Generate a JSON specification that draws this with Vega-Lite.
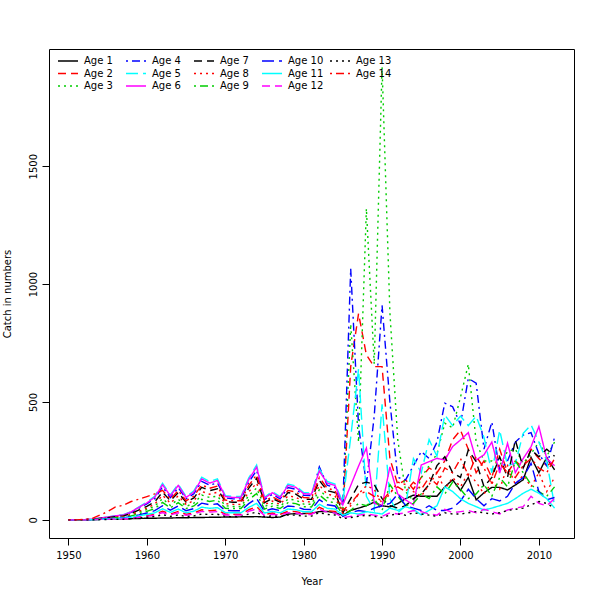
{
  "$schema": "https://vega.github.io/schema/vega-lite/v6.json",
  "width": 525,
  "height": 489,
  "autosize": {"type": "none"},
  "padding": {"left": 49, "top": 49, "right": 26, "bottom": 62},
  "config": {
    "view": {"stroke": "black", "strokeWidth": 1},
    "font": "DejaVu Sans",
    "axis": {
      "domain": false, "grid": false, "tickColor": "black", "tickSize": 7, "tickWidth": 1,
      "labelColor": "black", "labelFont": "DejaVu Sans", "labelFontSize": 10,
      "titleColor": "black", "titleFont": "DejaVu Sans", "titleFontSize": 10, "titleFontWeight": "normal"
    }
  },
  "datasets": {
    "catch": [
      {"age":"Age 1","year":1950,"n":0},{"age":"Age 1","year":1951,"n":0},{"age":"Age 1","year":1952,"n":0},{"age":"Age 1","year":1953,"n":1},{"age":"Age 1","year":1954,"n":2},{"age":"Age 1","year":1955,"n":3},{"age":"Age 1","year":1956,"n":4},{"age":"Age 1","year":1957,"n":5},{"age":"Age 1","year":1958,"n":5},{"age":"Age 1","year":1959,"n":6},
      {"age":"Age 1","year":1960,"n":7},{"age":"Age 1","year":1961,"n":7},{"age":"Age 1","year":1962,"n":8},{"age":"Age 1","year":1963,"n":8},{"age":"Age 1","year":1964,"n":9},{"age":"Age 1","year":1965,"n":9},{"age":"Age 1","year":1966,"n":10},{"age":"Age 1","year":1967,"n":10},{"age":"Age 1","year":1968,"n":11},{"age":"Age 1","year":1969,"n":11},
      {"age":"Age 1","year":1970,"n":12},{"age":"Age 1","year":1971,"n":12},{"age":"Age 1","year":1972,"n":13},{"age":"Age 1","year":1973,"n":13},{"age":"Age 1","year":1974,"n":14},{"age":"Age 1","year":1975,"n":12},{"age":"Age 1","year":1976,"n":10},{"age":"Age 1","year":1977,"n":12},{"age":"Age 1","year":1978,"n":25},{"age":"Age 1","year":1979,"n":26},
      {"age":"Age 1","year":1980,"n":27},{"age":"Age 1","year":1981,"n":28},{"age":"Age 1","year":1982,"n":35},{"age":"Age 1","year":1983,"n":36},{"age":"Age 1","year":1984,"n":30},{"age":"Age 1","year":1985,"n":20},{"age":"Age 1","year":1986,"n":40},{"age":"Age 1","year":1987,"n":50},{"age":"Age 1","year":1988,"n":60},{"age":"Age 1","year":1989,"n":75},
      {"age":"Age 1","year":1990,"n":60},{"age":"Age 1","year":1991,"n":55},{"age":"Age 1","year":1992,"n":70},{"age":"Age 1","year":1993,"n":90},{"age":"Age 1","year":1994,"n":105},{"age":"Age 1","year":1995,"n":100},{"age":"Age 1","year":1996,"n":100},{"age":"Age 1","year":1997,"n":100},{"age":"Age 1","year":1998,"n":140},{"age":"Age 1","year":1999,"n":170},
      {"age":"Age 1","year":2000,"n":125},{"age":"Age 1","year":2001,"n":180},{"age":"Age 1","year":2002,"n":85},{"age":"Age 1","year":2003,"n":115},{"age":"Age 1","year":2004,"n":138},{"age":"Age 1","year":2005,"n":138},{"age":"Age 1","year":2006,"n":127},{"age":"Age 1","year":2007,"n":148},{"age":"Age 1","year":2008,"n":170},{"age":"Age 1","year":2009,"n":265},
      {"age":"Age 1","year":2010,"n":200},{"age":"Age 1","year":2011,"n":265},{"age":"Age 1","year":2012,"n":212},

      {"age":"Age 2","year":1950,"n":0},{"age":"Age 2","year":1951,"n":0},{"age":"Age 2","year":1952,"n":0},{"age":"Age 2","year":1953,"n":1},{"age":"Age 2","year":1954,"n":2},{"age":"Age 2","year":1955,"n":3},{"age":"Age 2","year":1956,"n":4},{"age":"Age 2","year":1957,"n":5},{"age":"Age 2","year":1958,"n":8},{"age":"Age 2","year":1959,"n":13},
      {"age":"Age 2","year":1960,"n":18},{"age":"Age 2","year":1961,"n":24},{"age":"Age 2","year":1962,"n":37},{"age":"Age 2","year":1963,"n":25},{"age":"Age 2","year":1964,"n":36},{"age":"Age 2","year":1965,"n":24},{"age":"Age 2","year":1966,"n":30},{"age":"Age 2","year":1967,"n":43},{"age":"Age 2","year":1968,"n":39},{"age":"Age 2","year":1969,"n":42},
      {"age":"Age 2","year":1970,"n":25},{"age":"Age 2","year":1971,"n":24},{"age":"Age 2","year":1972,"n":24},{"age":"Age 2","year":1973,"n":43},{"age":"Age 2","year":1974,"n":56},{"age":"Age 2","year":1975,"n":23},{"age":"Age 2","year":1976,"n":29},{"age":"Age 2","year":1977,"n":24},{"age":"Age 2","year":1978,"n":36},{"age":"Age 2","year":1979,"n":35},
      {"age":"Age 2","year":1980,"n":28},{"age":"Age 2","year":1981,"n":27},{"age":"Age 2","year":1982,"n":53},{"age":"Age 2","year":1983,"n":39},{"age":"Age 2","year":1984,"n":36},{"age":"Age 2","year":1985,"n":25},{"age":"Age 2","year":1986,"n":650},{"age":"Age 2","year":1987,"n":875},{"age":"Age 2","year":1988,"n":700},{"age":"Age 2","year":1989,"n":650},
      {"age":"Age 2","year":1990,"n":650},{"age":"Age 2","year":1991,"n":260},{"age":"Age 2","year":1992,"n":150},{"age":"Age 2","year":1993,"n":170},{"age":"Age 2","year":1994,"n":130},{"age":"Age 2","year":1995,"n":180},{"age":"Age 2","year":1996,"n":220},{"age":"Age 2","year":1997,"n":200},{"age":"Age 2","year":1998,"n":250},{"age":"Age 2","year":1999,"n":340},
      {"age":"Age 2","year":2000,"n":380},{"age":"Age 2","year":2001,"n":300},{"age":"Age 2","year":2002,"n":200},{"age":"Age 2","year":2003,"n":250},{"age":"Age 2","year":2004,"n":180},{"age":"Age 2","year":2005,"n":300},{"age":"Age 2","year":2006,"n":200},{"age":"Age 2","year":2007,"n":250},{"age":"Age 2","year":2008,"n":220},{"age":"Age 2","year":2009,"n":300},
      {"age":"Age 2","year":2010,"n":260},{"age":"Age 2","year":2011,"n":230},{"age":"Age 2","year":2012,"n":250},

      {"age":"Age 3","year":1950,"n":0},{"age":"Age 3","year":1951,"n":0},{"age":"Age 3","year":1952,"n":1},{"age":"Age 3","year":1953,"n":2},{"age":"Age 3","year":1954,"n":5},{"age":"Age 3","year":1955,"n":7},{"age":"Age 3","year":1956,"n":10},{"age":"Age 3","year":1957,"n":13},{"age":"Age 3","year":1958,"n":20},{"age":"Age 3","year":1959,"n":32},
      {"age":"Age 3","year":1960,"n":44},{"age":"Age 3","year":1961,"n":58},{"age":"Age 3","year":1962,"n":90},{"age":"Age 3","year":1963,"n":61},{"age":"Age 3","year":1964,"n":88},{"age":"Age 3","year":1965,"n":57},{"age":"Age 3","year":1966,"n":71},{"age":"Age 3","year":1967,"n":105},{"age":"Age 3","year":1968,"n":95},{"age":"Age 3","year":1969,"n":101},
      {"age":"Age 3","year":1970,"n":60},{"age":"Age 3","year":1971,"n":57},{"age":"Age 3","year":1972,"n":57},{"age":"Age 3","year":1973,"n":103},{"age":"Age 3","year":1974,"n":135},{"age":"Age 3","year":1975,"n":56},{"age":"Age 3","year":1976,"n":70},{"age":"Age 3","year":1977,"n":57},{"age":"Age 3","year":1978,"n":88},{"age":"Age 3","year":1979,"n":84},
      {"age":"Age 3","year":1980,"n":67},{"age":"Age 3","year":1981,"n":66},{"age":"Age 3","year":1982,"n":128},{"age":"Age 3","year":1983,"n":95},{"age":"Age 3","year":1984,"n":88},{"age":"Age 3","year":1985,"n":40},{"age":"Age 3","year":1986,"n":830},{"age":"Age 3","year":1987,"n":330},{"age":"Age 3","year":1988,"n":1320},{"age":"Age 3","year":1989,"n":660},
      {"age":"Age 3","year":1990,"n":1920},{"age":"Age 3","year":1991,"n":880},{"age":"Age 3","year":1992,"n":340},{"age":"Age 3","year":1993,"n":120},{"age":"Age 3","year":1994,"n":80},{"age":"Age 3","year":1995,"n":180},{"age":"Age 3","year":1996,"n":230},{"age":"Age 3","year":1997,"n":280},{"age":"Age 3","year":1998,"n":410},{"age":"Age 3","year":1999,"n":390},
      {"age":"Age 3","year":2000,"n":520},{"age":"Age 3","year":2001,"n":660},{"age":"Age 3","year":2002,"n":330},{"age":"Age 3","year":2003,"n":250},{"age":"Age 3","year":2004,"n":250},{"age":"Age 3","year":2005,"n":230},{"age":"Age 3","year":2006,"n":290},{"age":"Age 3","year":2007,"n":300},{"age":"Age 3","year":2008,"n":240},{"age":"Age 3","year":2009,"n":280},
      {"age":"Age 3","year":2010,"n":330},{"age":"Age 3","year":2011,"n":270},{"age":"Age 3","year":2012,"n":330},

      {"age":"Age 4","year":1950,"n":0},{"age":"Age 4","year":1951,"n":0},{"age":"Age 4","year":1952,"n":1},{"age":"Age 4","year":1953,"n":3},{"age":"Age 4","year":1954,"n":7},{"age":"Age 4","year":1955,"n":11},{"age":"Age 4","year":1956,"n":16},{"age":"Age 4","year":1957,"n":20},{"age":"Age 4","year":1958,"n":32},{"age":"Age 4","year":1959,"n":50},
      {"age":"Age 4","year":1960,"n":68},{"age":"Age 4","year":1961,"n":90},{"age":"Age 4","year":1962,"n":140},{"age":"Age 4","year":1963,"n":95},{"age":"Age 4","year":1964,"n":137},{"age":"Age 4","year":1965,"n":89},{"age":"Age 4","year":1966,"n":111},{"age":"Age 4","year":1967,"n":163},{"age":"Age 4","year":1968,"n":147},{"age":"Age 4","year":1969,"n":157},
      {"age":"Age 4","year":1970,"n":93},{"age":"Age 4","year":1971,"n":89},{"age":"Age 4","year":1972,"n":89},{"age":"Age 4","year":1973,"n":160},{"age":"Age 4","year":1974,"n":210},{"age":"Age 4","year":1975,"n":86},{"age":"Age 4","year":1976,"n":108},{"age":"Age 4","year":1977,"n":89},{"age":"Age 4","year":1978,"n":137},{"age":"Age 4","year":1979,"n":130},
      {"age":"Age 4","year":1980,"n":104},{"age":"Age 4","year":1981,"n":103},{"age":"Age 4","year":1982,"n":225},{"age":"Age 4","year":1983,"n":147},{"age":"Age 4","year":1984,"n":137},{"age":"Age 4","year":1985,"n":60},{"age":"Age 4","year":1986,"n":1065},{"age":"Age 4","year":1987,"n":400},{"age":"Age 4","year":1988,"n":150},{"age":"Age 4","year":1989,"n":440},
      {"age":"Age 4","year":1990,"n":910},{"age":"Age 4","year":1991,"n":500},{"age":"Age 4","year":1992,"n":180},{"age":"Age 4","year":1993,"n":170},{"age":"Age 4","year":1994,"n":230},{"age":"Age 4","year":1995,"n":290},{"age":"Age 4","year":1996,"n":260},{"age":"Age 4","year":1997,"n":330},{"age":"Age 4","year":1998,"n":495},{"age":"Age 4","year":1999,"n":480},
      {"age":"Age 4","year":2000,"n":405},{"age":"Age 4","year":2001,"n":600},{"age":"Age 4","year":2002,"n":580},{"age":"Age 4","year":2003,"n":300},{"age":"Age 4","year":2004,"n":415},{"age":"Age 4","year":2005,"n":210},{"age":"Age 4","year":2006,"n":250},{"age":"Age 4","year":2007,"n":330},{"age":"Age 4","year":2008,"n":360},{"age":"Age 4","year":2009,"n":370},
      {"age":"Age 4","year":2010,"n":280},{"age":"Age 4","year":2011,"n":230},{"age":"Age 4","year":2012,"n":350},

      {"age":"Age 5","year":1950,"n":0},{"age":"Age 5","year":1951,"n":0},{"age":"Age 5","year":1952,"n":1},{"age":"Age 5","year":1953,"n":3},{"age":"Age 5","year":1954,"n":8},{"age":"Age 5","year":1955,"n":12},{"age":"Age 5","year":1956,"n":18},{"age":"Age 5","year":1957,"n":22},{"age":"Age 5","year":1958,"n":35},{"age":"Age 5","year":1959,"n":55},
      {"age":"Age 5","year":1960,"n":75},{"age":"Age 5","year":1961,"n":100},{"age":"Age 5","year":1962,"n":155},{"age":"Age 5","year":1963,"n":106},{"age":"Age 5","year":1964,"n":152},{"age":"Age 5","year":1965,"n":99},{"age":"Age 5","year":1966,"n":123},{"age":"Age 5","year":1967,"n":181},{"age":"Age 5","year":1968,"n":163},{"age":"Age 5","year":1969,"n":174},
      {"age":"Age 5","year":1970,"n":103},{"age":"Age 5","year":1971,"n":99},{"age":"Age 5","year":1972,"n":99},{"age":"Age 5","year":1973,"n":178},{"age":"Age 5","year":1974,"n":233},{"age":"Age 5","year":1975,"n":96},{"age":"Age 5","year":1976,"n":120},{"age":"Age 5","year":1977,"n":99},{"age":"Age 5","year":1978,"n":152},{"age":"Age 5","year":1979,"n":144},
      {"age":"Age 5","year":1980,"n":116},{"age":"Age 5","year":1981,"n":114},{"age":"Age 5","year":1982,"n":215},{"age":"Age 5","year":1983,"n":163},{"age":"Age 5","year":1984,"n":152},{"age":"Age 5","year":1985,"n":75},{"age":"Age 5","year":1986,"n":350},{"age":"Age 5","year":1987,"n":640},{"age":"Age 5","year":1988,"n":100},{"age":"Age 5","year":1989,"n":40},
      {"age":"Age 5","year":1990,"n":490},{"age":"Age 5","year":1991,"n":90},{"age":"Age 5","year":1992,"n":30},{"age":"Age 5","year":1993,"n":60},{"age":"Age 5","year":1994,"n":260},{"age":"Age 5","year":1995,"n":200},{"age":"Age 5","year":1996,"n":340},{"age":"Age 5","year":1997,"n":270},{"age":"Age 5","year":1998,"n":445},{"age":"Age 5","year":1999,"n":400},
      {"age":"Age 5","year":2000,"n":440},{"age":"Age 5","year":2001,"n":400},{"age":"Age 5","year":2002,"n":440},{"age":"Age 5","year":2003,"n":350},{"age":"Age 5","year":2004,"n":200},{"age":"Age 5","year":2005,"n":380},{"age":"Age 5","year":2006,"n":230},{"age":"Age 5","year":2007,"n":240},{"age":"Age 5","year":2008,"n":367},{"age":"Age 5","year":2009,"n":403},
      {"age":"Age 5","year":2010,"n":330},{"age":"Age 5","year":2011,"n":250},{"age":"Age 5","year":2012,"n":60},

      {"age":"Age 6","year":1950,"n":0},{"age":"Age 6","year":1951,"n":0},{"age":"Age 6","year":1952,"n":1},{"age":"Age 6","year":1953,"n":3},{"age":"Age 6","year":1954,"n":8},{"age":"Age 6","year":1955,"n":12},{"age":"Age 6","year":1956,"n":17},{"age":"Age 6","year":1957,"n":21},{"age":"Age 6","year":1958,"n":34},{"age":"Age 6","year":1959,"n":53},
      {"age":"Age 6","year":1960,"n":72},{"age":"Age 6","year":1961,"n":96},{"age":"Age 6","year":1962,"n":149},{"age":"Age 6","year":1963,"n":102},{"age":"Age 6","year":1964,"n":146},{"age":"Age 6","year":1965,"n":95},{"age":"Age 6","year":1966,"n":118},{"age":"Age 6","year":1967,"n":174},{"age":"Age 6","year":1968,"n":156},{"age":"Age 6","year":1969,"n":167},
      {"age":"Age 6","year":1970,"n":99},{"age":"Age 6","year":1971,"n":95},{"age":"Age 6","year":1972,"n":95},{"age":"Age 6","year":1973,"n":171},{"age":"Age 6","year":1974,"n":224},{"age":"Age 6","year":1975,"n":92},{"age":"Age 6","year":1976,"n":115},{"age":"Age 6","year":1977,"n":95},{"age":"Age 6","year":1978,"n":146},{"age":"Age 6","year":1979,"n":138},
      {"age":"Age 6","year":1980,"n":111},{"age":"Age 6","year":1981,"n":109},{"age":"Age 6","year":1982,"n":207},{"age":"Age 6","year":1983,"n":156},{"age":"Age 6","year":1984,"n":146},{"age":"Age 6","year":1985,"n":64},{"age":"Age 6","year":1986,"n":146},{"age":"Age 6","year":1987,"n":228},{"age":"Age 6","year":1988,"n":305},{"age":"Age 6","year":1989,"n":70},
      {"age":"Age 6","year":1990,"n":60},{"age":"Age 6","year":1991,"n":225},{"age":"Age 6","year":1992,"n":110},{"age":"Age 6","year":1993,"n":85},{"age":"Age 6","year":1994,"n":64},{"age":"Age 6","year":1995,"n":233},{"age":"Age 6","year":1996,"n":247},{"age":"Age 6","year":1997,"n":261},{"age":"Age 6","year":1998,"n":254},{"age":"Age 6","year":1999,"n":311},
      {"age":"Age 6","year":2000,"n":339},{"age":"Age 6","year":2001,"n":370},{"age":"Age 6","year":2002,"n":254},{"age":"Age 6","year":2003,"n":276},{"age":"Age 6","year":2004,"n":330},{"age":"Age 6","year":2005,"n":198},{"age":"Age 6","year":2006,"n":325},{"age":"Age 6","year":2007,"n":200},{"age":"Age 6","year":2008,"n":260},{"age":"Age 6","year":2009,"n":310},
      {"age":"Age 6","year":2010,"n":396},{"age":"Age 6","year":2011,"n":260},{"age":"Age 6","year":2012,"n":230},

      {"age":"Age 7","year":1950,"n":0},{"age":"Age 7","year":1951,"n":0},{"age":"Age 7","year":1952,"n":1},{"age":"Age 7","year":1953,"n":2},{"age":"Age 7","year":1954,"n":6},{"age":"Age 7","year":1955,"n":9},{"age":"Age 7","year":1956,"n":14},{"age":"Age 7","year":1957,"n":17},{"age":"Age 7","year":1958,"n":27},{"age":"Age 7","year":1959,"n":42},
      {"age":"Age 7","year":1960,"n":57},{"age":"Age 7","year":1961,"n":76},{"age":"Age 7","year":1962,"n":118},{"age":"Age 7","year":1963,"n":81},{"age":"Age 7","year":1964,"n":116},{"age":"Age 7","year":1965,"n":75},{"age":"Age 7","year":1966,"n":93},{"age":"Age 7","year":1967,"n":138},{"age":"Age 7","year":1968,"n":124},{"age":"Age 7","year":1969,"n":132},
      {"age":"Age 7","year":1970,"n":78},{"age":"Age 7","year":1971,"n":75},{"age":"Age 7","year":1972,"n":75},{"age":"Age 7","year":1973,"n":135},{"age":"Age 7","year":1974,"n":177},{"age":"Age 7","year":1975,"n":73},{"age":"Age 7","year":1976,"n":91},{"age":"Age 7","year":1977,"n":75},{"age":"Age 7","year":1978,"n":116},{"age":"Age 7","year":1979,"n":109},
      {"age":"Age 7","year":1980,"n":88},{"age":"Age 7","year":1981,"n":87},{"age":"Age 7","year":1982,"n":167},{"age":"Age 7","year":1983,"n":124},{"age":"Age 7","year":1984,"n":116},{"age":"Age 7","year":1985,"n":30},{"age":"Age 7","year":1986,"n":90},{"age":"Age 7","year":1987,"n":150},{"age":"Age 7","year":1988,"n":160},{"age":"Age 7","year":1989,"n":150},
      {"age":"Age 7","year":1990,"n":90},{"age":"Age 7","year":1991,"n":60},{"age":"Age 7","year":1992,"n":50},{"age":"Age 7","year":1993,"n":60},{"age":"Age 7","year":1994,"n":90},{"age":"Age 7","year":1995,"n":110},{"age":"Age 7","year":1996,"n":150},{"age":"Age 7","year":1997,"n":230},{"age":"Age 7","year":1998,"n":268},{"age":"Age 7","year":1999,"n":200},
      {"age":"Age 7","year":2000,"n":180},{"age":"Age 7","year":2001,"n":297},{"age":"Age 7","year":2002,"n":247},{"age":"Age 7","year":2003,"n":141},{"age":"Age 7","year":2004,"n":180},{"age":"Age 7","year":2005,"n":268},{"age":"Age 7","year":2006,"n":180},{"age":"Age 7","year":2007,"n":339},{"age":"Age 7","year":2008,"n":220},{"age":"Age 7","year":2009,"n":297},
      {"age":"Age 7","year":2010,"n":268},{"age":"Age 7","year":2011,"n":300},{"age":"Age 7","year":2012,"n":270},

      {"age":"Age 8","year":1950,"n":0},{"age":"Age 8","year":1951,"n":0},{"age":"Age 8","year":1952,"n":1},{"age":"Age 8","year":1953,"n":2},{"age":"Age 8","year":1954,"n":5},{"age":"Age 8","year":1955,"n":8},{"age":"Age 8","year":1956,"n":12},{"age":"Age 8","year":1957,"n":15},{"age":"Age 8","year":1958,"n":23},{"age":"Age 8","year":1959,"n":37},
      {"age":"Age 8","year":1960,"n":50},{"age":"Age 8","year":1961,"n":67},{"age":"Age 8","year":1962,"n":104},{"age":"Age 8","year":1963,"n":71},{"age":"Age 8","year":1964,"n":102},{"age":"Age 8","year":1965,"n":66},{"age":"Age 8","year":1966,"n":82},{"age":"Age 8","year":1967,"n":121},{"age":"Age 8","year":1968,"n":109},{"age":"Age 8","year":1969,"n":117},
      {"age":"Age 8","year":1970,"n":69},{"age":"Age 8","year":1971,"n":66},{"age":"Age 8","year":1972,"n":66},{"age":"Age 8","year":1973,"n":119},{"age":"Age 8","year":1974,"n":156},{"age":"Age 8","year":1975,"n":64},{"age":"Age 8","year":1976,"n":80},{"age":"Age 8","year":1977,"n":66},{"age":"Age 8","year":1978,"n":102},{"age":"Age 8","year":1979,"n":96},
      {"age":"Age 8","year":1980,"n":78},{"age":"Age 8","year":1981,"n":76},{"age":"Age 8","year":1982,"n":147},{"age":"Age 8","year":1983,"n":109},{"age":"Age 8","year":1984,"n":102},{"age":"Age 8","year":1985,"n":25},{"age":"Age 8","year":1986,"n":60},{"age":"Age 8","year":1987,"n":110},{"age":"Age 8","year":1988,"n":145},{"age":"Age 8","year":1989,"n":130},
      {"age":"Age 8","year":1990,"n":70},{"age":"Age 8","year":1991,"n":110},{"age":"Age 8","year":1992,"n":160},{"age":"Age 8","year":1993,"n":150},{"age":"Age 8","year":1994,"n":120},{"age":"Age 8","year":1995,"n":100},{"age":"Age 8","year":1996,"n":150},{"age":"Age 8","year":1997,"n":200},{"age":"Age 8","year":1998,"n":130},{"age":"Age 8","year":1999,"n":180},
      {"age":"Age 8","year":2000,"n":140},{"age":"Age 8","year":2001,"n":200},{"age":"Age 8","year":2002,"n":160},{"age":"Age 8","year":2003,"n":110},{"age":"Age 8","year":2004,"n":160},{"age":"Age 8","year":2005,"n":130},{"age":"Age 8","year":2006,"n":230},{"age":"Age 8","year":2007,"n":150},{"age":"Age 8","year":2008,"n":190},{"age":"Age 8","year":2009,"n":140},
      {"age":"Age 8","year":2010,"n":200},{"age":"Age 8","year":2011,"n":120},{"age":"Age 8","year":2012,"n":180},

      {"age":"Age 9","year":1950,"n":0},{"age":"Age 9","year":1951,"n":0},{"age":"Age 9","year":1952,"n":0},{"age":"Age 9","year":1953,"n":1},{"age":"Age 9","year":1954,"n":4},{"age":"Age 9","year":1955,"n":6},{"age":"Age 9","year":1956,"n":9},{"age":"Age 9","year":1957,"n":11},{"age":"Age 9","year":1958,"n":17},{"age":"Age 9","year":1959,"n":26},
      {"age":"Age 9","year":1960,"n":36},{"age":"Age 9","year":1961,"n":48},{"age":"Age 9","year":1962,"n":74},{"age":"Age 9","year":1963,"n":51},{"age":"Age 9","year":1964,"n":73},{"age":"Age 9","year":1965,"n":48},{"age":"Age 9","year":1966,"n":59},{"age":"Age 9","year":1967,"n":87},{"age":"Age 9","year":1968,"n":78},{"age":"Age 9","year":1969,"n":84},
      {"age":"Age 9","year":1970,"n":49},{"age":"Age 9","year":1971,"n":48},{"age":"Age 9","year":1972,"n":48},{"age":"Age 9","year":1973,"n":85},{"age":"Age 9","year":1974,"n":112},{"age":"Age 9","year":1975,"n":46},{"age":"Age 9","year":1976,"n":58},{"age":"Age 9","year":1977,"n":48},{"age":"Age 9","year":1978,"n":73},{"age":"Age 9","year":1979,"n":69},
      {"age":"Age 9","year":1980,"n":56},{"age":"Age 9","year":1981,"n":55},{"age":"Age 9","year":1982,"n":106},{"age":"Age 9","year":1983,"n":78},{"age":"Age 9","year":1984,"n":73},{"age":"Age 9","year":1985,"n":20},{"age":"Age 9","year":1986,"n":40},{"age":"Age 9","year":1987,"n":70},{"age":"Age 9","year":1988,"n":60},{"age":"Age 9","year":1989,"n":90},
      {"age":"Age 9","year":1990,"n":40},{"age":"Age 9","year":1991,"n":150},{"age":"Age 9","year":1992,"n":100},{"age":"Age 9","year":1993,"n":60},{"age":"Age 9","year":1994,"n":70},{"age":"Age 9","year":1995,"n":110},{"age":"Age 9","year":1996,"n":90},{"age":"Age 9","year":1997,"n":140},{"age":"Age 9","year":1998,"n":110},{"age":"Age 9","year":1999,"n":160},
      {"age":"Age 9","year":2000,"n":130},{"age":"Age 9","year":2001,"n":90},{"age":"Age 9","year":2002,"n":110},{"age":"Age 9","year":2003,"n":150},{"age":"Age 9","year":2004,"n":100},{"age":"Age 9","year":2005,"n":180},{"age":"Age 9","year":2006,"n":140},{"age":"Age 9","year":2007,"n":250},{"age":"Age 9","year":2008,"n":200},{"age":"Age 9","year":2009,"n":150},
      {"age":"Age 9","year":2010,"n":120},{"age":"Age 9","year":2011,"n":100},{"age":"Age 9","year":2012,"n":140},

      {"age":"Age 10","year":1950,"n":0},{"age":"Age 10","year":1951,"n":0},{"age":"Age 10","year":1952,"n":0},{"age":"Age 10","year":1953,"n":1},{"age":"Age 10","year":1954,"n":3},{"age":"Age 10","year":1955,"n":5},{"age":"Age 10","year":1956,"n":7},{"age":"Age 10","year":1957,"n":9},{"age":"Age 10","year":1958,"n":14},{"age":"Age 10","year":1959,"n":21},
      {"age":"Age 10","year":1960,"n":29},{"age":"Age 10","year":1961,"n":39},{"age":"Age 10","year":1962,"n":60},{"age":"Age 10","year":1963,"n":41},{"age":"Age 10","year":1964,"n":59},{"age":"Age 10","year":1965,"n":39},{"age":"Age 10","year":1966,"n":48},{"age":"Age 10","year":1967,"n":71},{"age":"Age 10","year":1968,"n":64},{"age":"Age 10","year":1969,"n":68},
      {"age":"Age 10","year":1970,"n":40},{"age":"Age 10","year":1971,"n":39},{"age":"Age 10","year":1972,"n":39},{"age":"Age 10","year":1973,"n":69},{"age":"Age 10","year":1974,"n":91},{"age":"Age 10","year":1975,"n":37},{"age":"Age 10","year":1976,"n":47},{"age":"Age 10","year":1977,"n":39},{"age":"Age 10","year":1978,"n":59},{"age":"Age 10","year":1979,"n":56},
      {"age":"Age 10","year":1980,"n":45},{"age":"Age 10","year":1981,"n":44},{"age":"Age 10","year":1982,"n":86},{"age":"Age 10","year":1983,"n":64},{"age":"Age 10","year":1984,"n":59},{"age":"Age 10","year":1985,"n":15},{"age":"Age 10","year":1986,"n":30},{"age":"Age 10","year":1987,"n":40},{"age":"Age 10","year":1988,"n":35},{"age":"Age 10","year":1989,"n":50},
      {"age":"Age 10","year":1990,"n":60},{"age":"Age 10","year":1991,"n":70},{"age":"Age 10","year":1992,"n":110},{"age":"Age 10","year":1993,"n":60},{"age":"Age 10","year":1994,"n":50},{"age":"Age 10","year":1995,"n":40},{"age":"Age 10","year":1996,"n":60},{"age":"Age 10","year":1997,"n":40},{"age":"Age 10","year":1998,"n":40},{"age":"Age 10","year":1999,"n":50},
      {"age":"Age 10","year":2000,"n":80},{"age":"Age 10","year":2001,"n":130},{"age":"Age 10","year":2002,"n":90},{"age":"Age 10","year":2003,"n":60},{"age":"Age 10","year":2004,"n":90},{"age":"Age 10","year":2005,"n":80},{"age":"Age 10","year":2006,"n":100},{"age":"Age 10","year":2007,"n":155},{"age":"Age 10","year":2008,"n":180},{"age":"Age 10","year":2009,"n":240},
      {"age":"Age 10","year":2010,"n":120},{"age":"Age 10","year":2011,"n":85},{"age":"Age 10","year":2012,"n":95},

      {"age":"Age 11","year":1950,"n":0},{"age":"Age 11","year":1951,"n":0},{"age":"Age 11","year":1952,"n":0},{"age":"Age 11","year":1953,"n":1},{"age":"Age 11","year":1954,"n":2},{"age":"Age 11","year":1955,"n":4},{"age":"Age 11","year":1956,"n":5},{"age":"Age 11","year":1957,"n":7},{"age":"Age 11","year":1958,"n":11},{"age":"Age 11","year":1959,"n":17},
      {"age":"Age 11","year":1960,"n":23},{"age":"Age 11","year":1961,"n":30},{"age":"Age 11","year":1962,"n":47},{"age":"Age 11","year":1963,"n":32},{"age":"Age 11","year":1964,"n":46},{"age":"Age 11","year":1965,"n":30},{"age":"Age 11","year":1966,"n":37},{"age":"Age 11","year":1967,"n":54},{"age":"Age 11","year":1968,"n":49},{"age":"Age 11","year":1969,"n":52},
      {"age":"Age 11","year":1970,"n":31},{"age":"Age 11","year":1971,"n":30},{"age":"Age 11","year":1972,"n":30},{"age":"Age 11","year":1973,"n":53},{"age":"Age 11","year":1974,"n":70},{"age":"Age 11","year":1975,"n":29},{"age":"Age 11","year":1976,"n":36},{"age":"Age 11","year":1977,"n":30},{"age":"Age 11","year":1978,"n":46},{"age":"Age 11","year":1979,"n":43},
      {"age":"Age 11","year":1980,"n":35},{"age":"Age 11","year":1981,"n":34},{"age":"Age 11","year":1982,"n":66},{"age":"Age 11","year":1983,"n":49},{"age":"Age 11","year":1984,"n":46},{"age":"Age 11","year":1985,"n":20},{"age":"Age 11","year":1986,"n":30},{"age":"Age 11","year":1987,"n":25},{"age":"Age 11","year":1988,"n":35},{"age":"Age 11","year":1989,"n":30},
      {"age":"Age 11","year":1990,"n":25},{"age":"Age 11","year":1991,"n":50},{"age":"Age 11","year":1992,"n":40},{"age":"Age 11","year":1993,"n":56},{"age":"Age 11","year":1994,"n":45},{"age":"Age 11","year":1995,"n":21},{"age":"Age 11","year":1996,"n":40},{"age":"Age 11","year":1997,"n":60},{"age":"Age 11","year":1998,"n":140},{"age":"Age 11","year":1999,"n":120},
      {"age":"Age 11","year":2000,"n":90},{"age":"Age 11","year":2001,"n":70},{"age":"Age 11","year":2002,"n":56},{"age":"Age 11","year":2003,"n":42},{"age":"Age 11","year":2004,"n":50},{"age":"Age 11","year":2005,"n":60},{"age":"Age 11","year":2006,"n":70},{"age":"Age 11","year":2007,"n":90},{"age":"Age 11","year":2008,"n":113},{"age":"Age 11","year":2009,"n":130},
      {"age":"Age 11","year":2010,"n":113},{"age":"Age 11","year":2011,"n":90},{"age":"Age 11","year":2012,"n":50},

      {"age":"Age 12","year":1950,"n":0},{"age":"Age 12","year":1951,"n":0},{"age":"Age 12","year":1952,"n":0},{"age":"Age 12","year":1953,"n":1},{"age":"Age 12","year":1954,"n":2},{"age":"Age 12","year":1955,"n":2},{"age":"Age 12","year":1956,"n":4},{"age":"Age 12","year":1957,"n":4},{"age":"Age 12","year":1958,"n":7},{"age":"Age 12","year":1959,"n":11},
      {"age":"Age 12","year":1960,"n":15},{"age":"Age 12","year":1961,"n":20},{"age":"Age 12","year":1962,"n":31},{"age":"Age 12","year":1963,"n":21},{"age":"Age 12","year":1964,"n":30},{"age":"Age 12","year":1965,"n":20},{"age":"Age 12","year":1966,"n":25},{"age":"Age 12","year":1967,"n":36},{"age":"Age 12","year":1968,"n":33},{"age":"Age 12","year":1969,"n":35},
      {"age":"Age 12","year":1970,"n":21},{"age":"Age 12","year":1971,"n":20},{"age":"Age 12","year":1972,"n":20},{"age":"Age 12","year":1973,"n":36},{"age":"Age 12","year":1974,"n":47},{"age":"Age 12","year":1975,"n":19},{"age":"Age 12","year":1976,"n":24},{"age":"Age 12","year":1977,"n":20},{"age":"Age 12","year":1978,"n":30},{"age":"Age 12","year":1979,"n":29},
      {"age":"Age 12","year":1980,"n":23},{"age":"Age 12","year":1981,"n":23},{"age":"Age 12","year":1982,"n":44},{"age":"Age 12","year":1983,"n":33},{"age":"Age 12","year":1984,"n":30},{"age":"Age 12","year":1985,"n":10},{"age":"Age 12","year":1986,"n":15},{"age":"Age 12","year":1987,"n":20},{"age":"Age 12","year":1988,"n":25},{"age":"Age 12","year":1989,"n":20},
      {"age":"Age 12","year":1990,"n":15},{"age":"Age 12","year":1991,"n":30},{"age":"Age 12","year":1992,"n":25},{"age":"Age 12","year":1993,"n":30},{"age":"Age 12","year":1994,"n":40},{"age":"Age 12","year":1995,"n":35},{"age":"Age 12","year":1996,"n":25},{"age":"Age 12","year":1997,"n":20},{"age":"Age 12","year":1998,"n":45},{"age":"Age 12","year":1999,"n":30},
      {"age":"Age 12","year":2000,"n":35},{"age":"Age 12","year":2001,"n":40},{"age":"Age 12","year":2002,"n":30},{"age":"Age 12","year":2003,"n":45},{"age":"Age 12","year":2004,"n":35},{"age":"Age 12","year":2005,"n":25},{"age":"Age 12","year":2006,"n":42},{"age":"Age 12","year":2007,"n":50},{"age":"Age 12","year":2008,"n":56},{"age":"Age 12","year":2009,"n":100},
      {"age":"Age 12","year":2010,"n":70},{"age":"Age 12","year":2011,"n":60},{"age":"Age 12","year":2012,"n":90},

      {"age":"Age 13","year":1950,"n":0},{"age":"Age 13","year":1951,"n":0},{"age":"Age 13","year":1952,"n":0},{"age":"Age 13","year":1953,"n":0},{"age":"Age 13","year":1954,"n":1},{"age":"Age 13","year":1955,"n":2},{"age":"Age 13","year":1956,"n":3},{"age":"Age 13","year":1957,"n":3},{"age":"Age 13","year":1958,"n":5},{"age":"Age 13","year":1959,"n":8},
      {"age":"Age 13","year":1960,"n":11},{"age":"Age 13","year":1961,"n":14},{"age":"Age 13","year":1962,"n":22},{"age":"Age 13","year":1963,"n":15},{"age":"Age 13","year":1964,"n":21},{"age":"Age 13","year":1965,"n":14},{"age":"Age 13","year":1966,"n":17},{"age":"Age 13","year":1967,"n":25},{"age":"Age 13","year":1968,"n":23},{"age":"Age 13","year":1969,"n":24},
      {"age":"Age 13","year":1970,"n":14},{"age":"Age 13","year":1971,"n":14},{"age":"Age 13","year":1972,"n":14},{"age":"Age 13","year":1973,"n":25},{"age":"Age 13","year":1974,"n":33},{"age":"Age 13","year":1975,"n":13},{"age":"Age 13","year":1976,"n":17},{"age":"Age 13","year":1977,"n":14},{"age":"Age 13","year":1978,"n":21},{"age":"Age 13","year":1979,"n":20},
      {"age":"Age 13","year":1980,"n":16},{"age":"Age 13","year":1981,"n":16},{"age":"Age 13","year":1982,"n":31},{"age":"Age 13","year":1983,"n":23},{"age":"Age 13","year":1984,"n":21},{"age":"Age 13","year":1985,"n":5},{"age":"Age 13","year":1986,"n":10},{"age":"Age 13","year":1987,"n":15},{"age":"Age 13","year":1988,"n":20},{"age":"Age 13","year":1989,"n":15},
      {"age":"Age 13","year":1990,"n":10},{"age":"Age 13","year":1991,"n":20},{"age":"Age 13","year":1992,"n":25},{"age":"Age 13","year":1993,"n":20},{"age":"Age 13","year":1994,"n":30},{"age":"Age 13","year":1995,"n":25},{"age":"Age 13","year":1996,"n":20},{"age":"Age 13","year":1997,"n":15},{"age":"Age 13","year":1998,"n":30},{"age":"Age 13","year":1999,"n":25},
      {"age":"Age 13","year":2000,"n":25},{"age":"Age 13","year":2001,"n":30},{"age":"Age 13","year":2002,"n":35},{"age":"Age 13","year":2003,"n":30},{"age":"Age 13","year":2004,"n":25},{"age":"Age 13","year":2005,"n":30},{"age":"Age 13","year":2006,"n":40},{"age":"Age 13","year":2007,"n":45},{"age":"Age 13","year":2008,"n":50},{"age":"Age 13","year":2009,"n":64},
      {"age":"Age 13","year":2010,"n":78},{"age":"Age 13","year":2011,"n":70},{"age":"Age 13","year":2012,"n":50},

      {"age":"Age 14","year":1950,"n":0},{"age":"Age 14","year":1951,"n":0},{"age":"Age 14","year":1952,"n":2},{"age":"Age 14","year":1953,"n":6},{"age":"Age 14","year":1954,"n":20},{"age":"Age 14","year":1955,"n":35},{"age":"Age 14","year":1956,"n":55},{"age":"Age 14","year":1957,"n":62},{"age":"Age 14","year":1958,"n":78},{"age":"Age 14","year":1959,"n":88},
      {"age":"Age 14","year":1960,"n":99},{"age":"Age 14","year":1961,"n":110},{"age":"Age 14","year":1962,"n":125},{"age":"Age 14","year":1963,"n":87},{"age":"Age 14","year":1964,"n":125},{"age":"Age 14","year":1965,"n":81},{"age":"Age 14","year":1966,"n":101},{"age":"Age 14","year":1967,"n":148},{"age":"Age 14","year":1968,"n":134},{"age":"Age 14","year":1969,"n":143},
      {"age":"Age 14","year":1970,"n":84},{"age":"Age 14","year":1971,"n":81},{"age":"Age 14","year":1972,"n":81},{"age":"Age 14","year":1973,"n":146},{"age":"Age 14","year":1974,"n":191},{"age":"Age 14","year":1975,"n":79},{"age":"Age 14","year":1976,"n":98},{"age":"Age 14","year":1977,"n":81},{"age":"Age 14","year":1978,"n":125},{"age":"Age 14","year":1979,"n":118},
      {"age":"Age 14","year":1980,"n":95},{"age":"Age 14","year":1981,"n":93},{"age":"Age 14","year":1982,"n":180},{"age":"Age 14","year":1983,"n":134},{"age":"Age 14","year":1984,"n":125},{"age":"Age 14","year":1985,"n":40},{"age":"Age 14","year":1986,"n":70},{"age":"Age 14","year":1987,"n":110},{"age":"Age 14","year":1988,"n":120},{"age":"Age 14","year":1989,"n":100},
      {"age":"Age 14","year":1990,"n":80},{"age":"Age 14","year":1991,"n":120},{"age":"Age 14","year":1992,"n":140},{"age":"Age 14","year":1993,"n":120},{"age":"Age 14","year":1994,"n":160},{"age":"Age 14","year":1995,"n":130},{"age":"Age 14","year":1996,"n":180},{"age":"Age 14","year":1997,"n":150},{"age":"Age 14","year":1998,"n":220},{"age":"Age 14","year":1999,"n":200},
      {"age":"Age 14","year":2000,"n":260},{"age":"Age 14","year":2001,"n":190},{"age":"Age 14","year":2002,"n":270},{"age":"Age 14","year":2003,"n":220},{"age":"Age 14","year":2004,"n":150},{"age":"Age 14","year":2005,"n":240},{"age":"Age 14","year":2006,"n":200},{"age":"Age 14","year":2007,"n":180},{"age":"Age 14","year":2008,"n":230},{"age":"Age 14","year":2009,"n":260},
      {"age":"Age 14","year":2010,"n":220},{"age":"Age 14","year":2011,"n":200},{"age":"Age 14","year":2012,"n":260}
    ]
  },
  "data": {"name": "catch"},
  "mark": {"type": "line", "strokeWidth": 1.4, "clip": true},
  "encoding": {
    "x": {
      "field": "year", "type": "quantitative",
      "scale": {"domain": [1947.52, 2014.48], "nice": false, "zero": false},
      "axis": {"values": [1950, 1960, 1970, 1980, 1990, 2000, 2010], "format": "d", "title": "Year", "labelPadding": 5, "titlePadding": 16}
    },
    "y": {
      "field": "n", "type": "quantitative",
      "scale": {"domain": [-76.8, 1996.8], "nice": false, "zero": false},
      "axis": {"values": [0, 500, 1000, 1500], "format": "d", "title": "Catch in numbers", "labelAngle": -90, "labelPadding": 4, "titlePadding": 16}
    },
    "color": {
      "field": "age", "type": "nominal",
      "scale": {
        "domain": ["Age 1", "Age 2", "Age 3", "Age 4", "Age 5", "Age 6", "Age 7", "Age 8", "Age 9", "Age 10", "Age 11", "Age 12", "Age 13", "Age 14"],
        "range": ["#000000", "#FF0000", "#00CD00", "#0000FF", "#00FFFF", "#FF00FF", "#000000", "#FF0000", "#00CD00", "#0000FF", "#00FFFF", "#FF00FF", "#000000", "#FF0000"]
      },
      "legend": {
        "title": null, "orient": "none", "legendX": 13, "legendY": 6, "columns": 5, "gridAlign": "all",
        "columnPadding": 3, "rowPadding": 1.5, "padding": 0,
        "symbolType": "M-2,0L2,0", "symbolSize": 100, "symbolStrokeWidth": 1.4, "labelOffset": 10,
        "labelFont": "DejaVu Sans", "labelFontSize": 10, "labelColor": "black"
      }
    },
    "strokeDash": {
      "field": "age", "type": "nominal",
      "scale": {
        "domain": ["Age 1", "Age 2", "Age 3", "Age 4", "Age 5", "Age 6", "Age 7", "Age 8", "Age 9", "Age 10", "Age 11", "Age 12", "Age 13", "Age 14"],
        "range": [[1, 0], [8, 5], [2, 4], [2, 4, 8, 4], [12, 5], [1, 0], [8, 5], [2, 4], [2, 4, 8, 4], [12, 5], [1, 0], [8, 5], [2, 4], [2, 4, 8, 4]]
      },
      "legend": {
        "title": null, "orient": "none", "legendX": 13, "legendY": 6, "columns": 5, "gridAlign": "all",
        "columnPadding": 3, "rowPadding": 1.5, "padding": 0,
        "symbolType": "M-2,0L2,0", "symbolSize": 100, "symbolStrokeWidth": 1.4, "labelOffset": 10,
        "labelFont": "DejaVu Sans", "labelFontSize": 10, "labelColor": "black"
      }
    }
  }
}
